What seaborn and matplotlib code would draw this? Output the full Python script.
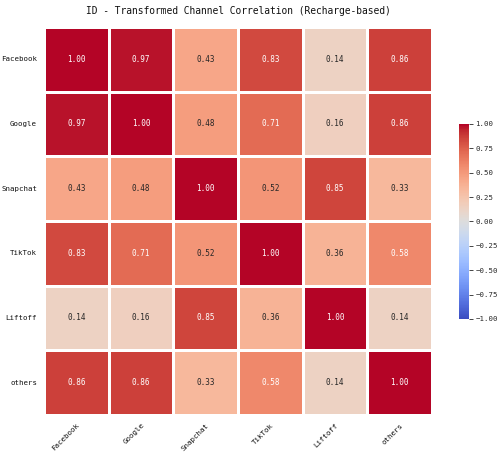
import numpy as np
import pandas as pd
import seaborn as sns
import matplotlib
matplotlib.use("Agg")
import matplotlib.pyplot as plt

channels = ["Facebook", "Google", "Snapchat", "TikTok", "Liftoff", "others"]
corr_values = [
    [1.00, 0.97, 0.43, 0.83, 0.14, 0.86],
    [0.97, 1.00, 0.48, 0.71, 0.16, 0.86],
    [0.43, 0.48, 1.00, 0.52, 0.85, 0.33],
    [0.83, 0.71, 0.52, 1.00, 0.36, 0.58],
    [0.14, 0.16, 0.85, 0.36, 1.00, 0.14],
    [0.86, 0.86, 0.33, 0.58, 0.14, 1.00],
]
title = "ID - Transformed Channel Correlation (Recharge-based)"

sns.set_style("white")
plt.rcParams["font.family"] = ["DejaVu Sans Mono", "Noto Sans CJK SC"]

corr = pd.DataFrame(corr_values, index=channels, columns=channels)

fig = plt.figure(figsize=(5, 4.55), dpi=100)
ax = fig.add_axes([44 / 500, 1 - 415 / 455, 388 / 500, 388 / 455])
cax = fig.add_axes([459 / 500, 1 - 319 / 455, 9.5 / 500, 195 / 455])

sns.heatmap(corr, ax=ax, cbar_ax=cax, cmap="coolwarm", vmin=-1, vmax=1,
            annot=True, fmt=".2f", linewidths=1, linecolor="white",
            annot_kws={"size": 5.5})

ax.set_title(title, fontsize=6.9, pad=9, color="#111111")
ax.set_xticklabels(channels, rotation=45, ha="right", rotation_mode="anchor",
                   fontsize=5.3, color="#111111")
ax.set_yticklabels(channels, rotation=0, fontsize=5.3, color="#111111")
ax.tick_params(axis="both", length=3, width=0.6, pad=2)
cax.tick_params(labelsize=5.3, length=3, width=0.6, pad=2)
cax.set_yticks([-1, -0.75, -0.5, -0.25, 0, 0.25, 0.5, 0.75, 1])

fig.savefig("out.png", dpi=100)
